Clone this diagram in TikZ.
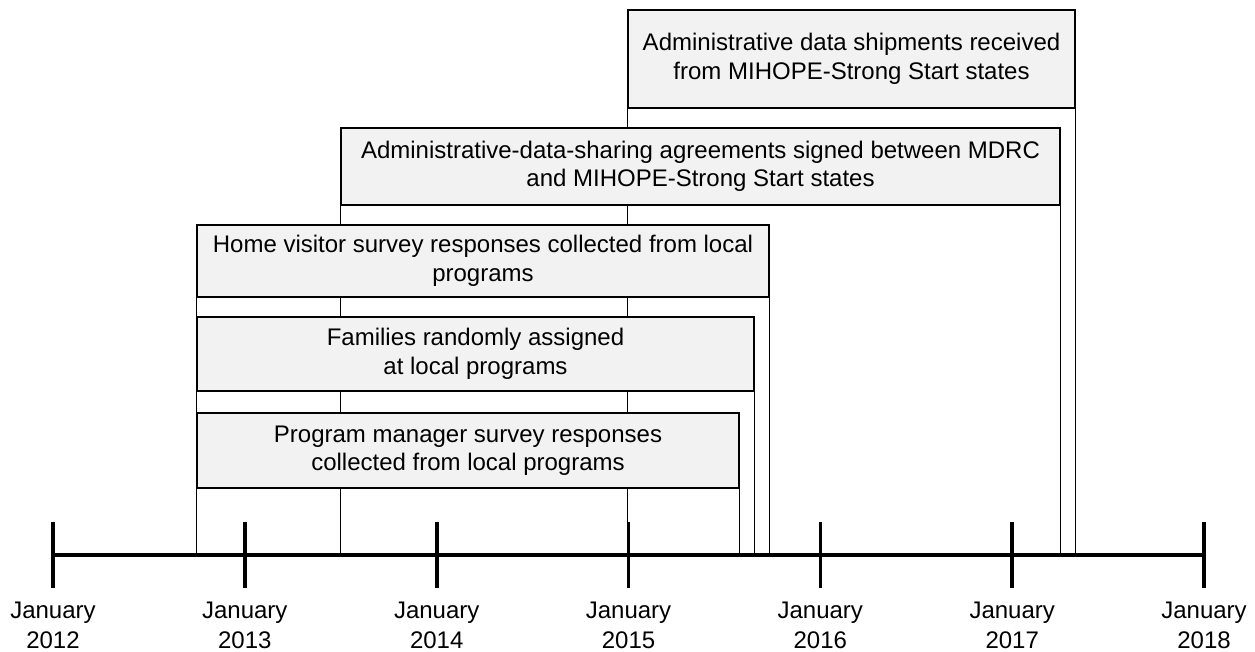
\documentclass[tikz,border=0pt]{standalone}
\usepackage{fontspec}
\setmainfont{Liberation Sans}
\definecolor{boxgray}{HTML}{F2F2F2}
\begin{document}
\begin{tikzpicture}[x=1pt,y=-1pt,
  box/.style={draw, line width=1.4pt, fill=boxgray, inner sep=0pt, align=center,
    font=\fontsize{24}{28.5}\selectfont, anchor=center},
  conn/.style={line width=1.4pt},
  axisline/.style={line width=3.6pt},
  tickmark/.style={line width=3.6pt},
  yearlabel/.style={align=center, inner sep=0pt, font=\fontsize{24}{30}\selectfont}]
\useasboundingbox (0,0) rectangle (1255,652);
% axis coordinates
\coordinate (axL) at (53,555);
\coordinate (axR) at (1204,555);
% box 1
\node[box, minimum width=447pt, minimum height=98pt] (b1) at (851.5,59)
  {Administrative data shipments received\\from MIHOPE-Strong Start states};
\draw[conn] (b1.south west) -- (b1.south west |- axL);
\draw[conn] (b1.south east) -- (b1.south east |- axL);
% box 2
\node[box, minimum width=719pt, minimum height=77pt] (b2) at (700.5,166.5)
  {Administrative-data-sharing agreements signed between MDRC\\and MIHOPE-Strong Start states};
\draw[conn] (b2.south west) -- (b2.south west |- axL);
\draw[conn] (b2.south east) -- (b2.south east |- axL);
% box 3
\node[box, minimum width=572pt, minimum height=72pt] (b3) at (483,261)
  {Home visitor survey responses collected from local\\programs};
\draw[conn] (b3.south west) -- (b3.south west |- axL);
\draw[conn] (b3.south east) -- (b3.south east |- axL);
% box 4
\node[box, minimum width=557pt, minimum height=74pt] (b4) at (475.5,354)
  {Families randomly assigned\\at local programs};
\draw[conn] (b4.south west) -- (b4.south west |- axL);
\draw[conn] (b4.south east) -- (b4.south east |- axL);
% box 5
\node[box, minimum width=542pt, minimum height=75pt] (b5) at (468,450.5)
  {Program manager survey responses\\collected from local programs};
\draw[conn] (b5.south west) -- (b5.south west |- axL);
\draw[conn] (b5.south east) -- (b5.south east |- axL);
% axis
\draw[axisline] (axL) -- (axR);
\foreach \yr/\xx in {2012/53,2013/244.8,2014/436.7,2015/628.5,2016/820.3,2017/1012.2,2018/1204} {
  \coordinate (t\yr) at (\xx,555);
  \draw[tickmark] (t\yr) ++(0,-33) -- ++(0,66);
  \node[yearlabel] (l\yr) at (\xx,625) {January\\\yr};
}
\end{tikzpicture}
\end{document}
